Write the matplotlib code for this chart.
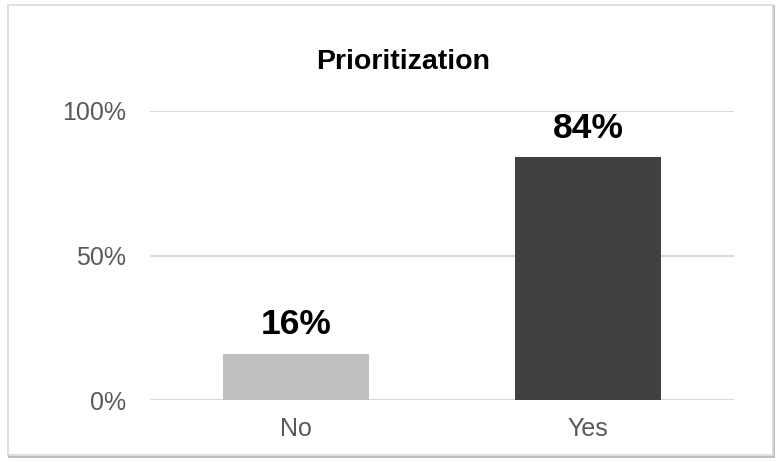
import matplotlib
matplotlib.use("Agg")
import matplotlib.pyplot as plt
from matplotlib.patches import Rectangle

plt.rcParams['font.family'] = ['Liberation Sans', 'DejaVu Sans']

categories = ["No", "Yes"]
values = [0.16, 0.84]
bar_colors = ["#BFBFBF", "#404040"]
yticks = [0, 0.5, 1.0]
ytick_labels = ["0%", "50%", "100%"]
title = "Prioritization"

fig = plt.figure(figsize=(7.81, 4.62), dpi=100)
ax = fig.add_axes([150/781, 62/462, 584/781, 289/462])
ax.set_zorder(2)
ax.patch.set_alpha(0)

x = range(len(categories))
bars = ax.bar(x, values, width=0.5, color=bar_colors, zorder=3)

for xi, v in zip(x, values):
    ax.annotate(f"{round(v*100)}%", (xi, v), xytext=(0, 9), textcoords="offset points",
                ha="center", va="bottom", fontsize=25.5, fontweight="bold", color="black")

ax.set_xlim(-0.5, 1.5)
ax.set_ylim(0, 1)
ax.set_yticks(yticks)
ax.set_yticklabels(ytick_labels)
ax.set_xticks(list(x))
ax.set_xticklabels(categories)
ax.tick_params(axis="y", length=0, pad=17, labelsize=18, labelcolor="#595959")
ax.tick_params(axis="x", length=0, pad=12, labelsize=18, labelcolor="#595959")
ax.grid(axis="y", color="#D9D9D9", linewidth=1.5, zorder=0)
for s in ax.spines.values():
    s.set_visible(False)

fig.text(403/781, 1 - 69/462, title, ha="center", va="baseline",
         fontsize=20.5, fontweight="bold", color="black", zorder=3)

# chart border with faint shadow
fig.patches.append(Rectangle((9/781, 1 - 457/462), 765/781, 451/462, transform=fig.transFigure,
                             fill=False, edgecolor="#B0B0B0", linewidth=1.2, zorder=0))
fig.patches.append(Rectangle((8/781, 1 - 455/462), 765/781, 450/462, transform=fig.transFigure,
                             facecolor="white", edgecolor="#D9D9D9", linewidth=1.2, zorder=1))

fig.savefig("out.png", dpi=100)
